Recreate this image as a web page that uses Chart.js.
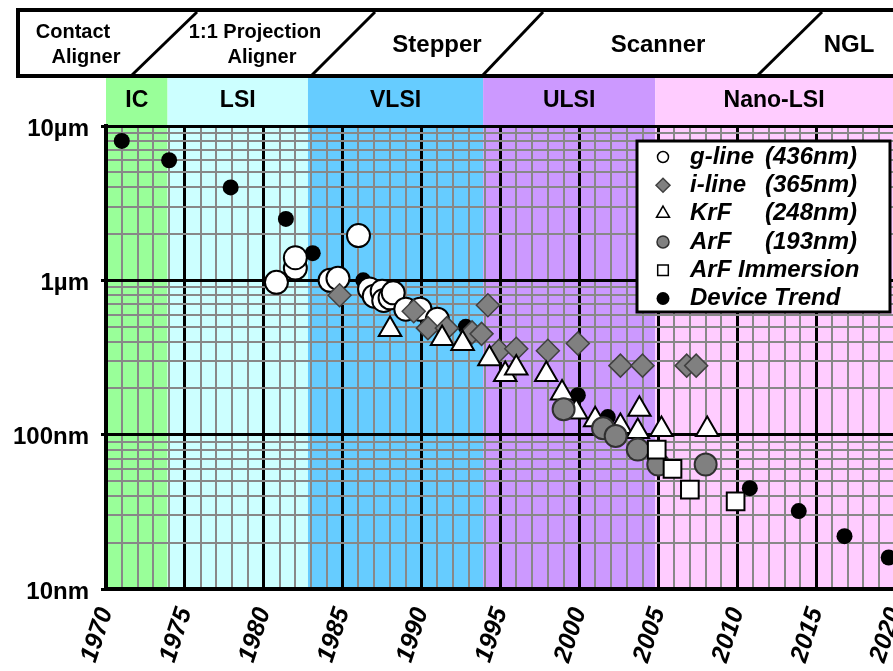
<!DOCTYPE html>
<html>
<head>
<meta charset="utf-8">
<script src="https://cdn.jsdelivr.net/npm/chart.js@4.4.0/dist/chart.umd.min.js"></script>
<style>
  html, body { margin: 0; padding: 0; background: #fff; }
  #wrap { width: 893px; height: 671px; overflow: hidden; }
  canvas { display: block; }
</style>
</head>
<body>
<div id="wrap"><canvas id="ch" width="910" height="671"></canvas></div>
<script>
// [year, feature size in nm]
const gLine = [[1980.8, 970], [1982, 1200], [1982, 1400], [1984.2, 1000], [1984.7, 1030], [1986, 1950],
  [1986.7, 880], [1987, 790], [1987.5, 850], [1987.6, 740], [1988, 770], [1988.2, 830],
  [1989, 650], [1989.9, 650], [1991, 560]];
const iLine = [[1984.8, 800], [1989.5, 630], [1990.4, 490], [1991.6, 490], [1993.2, 460], [1993.8, 450],
  [1994.2, 690], [1994.9, 350], [1996, 360], [1998, 350], [1999.9, 390], [2002.6, 280],
  [2004, 280], [2006.8, 280], [2007.4, 280]];
const krf = [[1988, 480], [1991.3, 420], [1992.6, 390], [1994.3, 310], [1995.3, 245], [1996, 270],
  [1997.9, 245], [1998.9, 186], [1999.8, 140], [2001, 125], [2002.6, 113], [2003.8, 146],
  [2003.7, 105], [2005.2, 108], [2008.1, 108]];
const arf = [[1999, 146], [2001.5, 110], [2002.3, 98], [2003.7, 80], [2005, 64], [2008, 64]];
const arfImm = [[2004.9, 80], [2005.9, 60], [2007, 44], [2009.9, 37]];
const device = [[1971, 8000], [1974, 6000], [1977.9, 4000], [1981.4, 2500], [1983.1, 1500], [1986.3, 1000],
  [1992.8, 500], [1999.9, 180], [2001.8, 130], [2010.8, 45], [2013.9, 32], [2016.8, 22], [2019.6, 16]];

const seriesNames = ['g-line', 'i-line', 'KrF', 'ArF', 'ArF Immersion', 'Device Trend'];
const seriesWaves = ['(436nm)', '(365nm)', '(248nm)', '(193nm)', '', ''];

const eraNames = ['IC', 'LSI', 'VLSI', 'ULSI', 'Nano-LSI'];
const eraStart = [1970, 1973.9, 1982.8, 1993.9, 2004.8];
const eraEnd = [1973.9, 1982.8, 1993.9, 2004.8, 2021];
const eraColors = ['#99ff99', '#ccffff', '#66ccff', '#cc99ff', '#ffccff'];

const sizeTicks = [10, 100, 1000, 10000];
const sizeLabels = ['10nm', '100nm', '1µm', '10µm'];
const yearLabels = [1970, 1975, 1980, 1985, 1990, 1995, 2000, 2005, 2010, 2015, 2020];

let yearGrid = [];
for (let y = 1970; y <= 2020; y++) yearGrid.push(y);
let sizeGrid = [];
[10, 100, 1000].forEach(d => { for (let m = 1; m <= 9; m++) sizeGrid.push(d * m); });
sizeGrid.push(10000);

const FONT = "'Liberation Sans', Arial, sans-serif";
Chart.defaults.font.family = FONT;
Chart.defaults.color = '#000';

let pts = arr => arr.map(p => ({ x: p[0], y: p[1] }));
let isDecade = v => Math.abs(Math.log10(v) - Math.round(Math.log10(v))) < 1e-9;

let styles = [
  { pointStyle: 'circle', radius: 11.5, bg: '#ffffff', border: '#000', bw: 2, lr: 5.5 },
  { pointStyle: 'rectRot', radius: 11.5, bg: '#808080', border: '#404040', bw: 1.5, lr: 7 },
  { pointStyle: 'triangle', radius: 13, bg: '#ffffff', border: '#000', bw: 2, lr: 7.5 },
  { pointStyle: 'circle', radius: 11, bg: '#808080', border: '#303030', bw: 2, lr: 6 },
  { pointStyle: 'rect', radius: 12.5, bg: '#ffffff', border: '#000', bw: 2, lr: 7.5 },
  { pointStyle: 'circle', radius: 8, bg: '#000000', border: '#000', bw: 0, lr: 6.5 }
];
let series = [gLine, iLine, krf, arf, arfImm, device];
let orders = [5, 4, 3, 2, 1, 6];

let datasets = series.map((s, i) => ({
  label: seriesNames[i],
  data: pts(s),
  order: orders[i],
  pointStyle: styles[i].pointStyle,
  pointRadius: styles[i].radius,
  pointBackgroundColor: styles[i].bg,
  pointBorderColor: styles[i].border,
  pointBorderWidth: styles[i].bw
}));

let decor = {
  id: 'decor',
  beforeDraw(chart) {
    let { ctx, chartArea: a, scales: { x } } = chart;
    ctx.save();
    eraStart.forEach((s, i) => {
      let x0 = x.getPixelForValue(s), x1 = x.getPixelForValue(eraEnd[i]);
      ctx.fillStyle = eraColors[i];
      ctx.fillRect(x0, 78, x1 - x0, a.bottom - 78);
    });
    ctx.restore();
  },
  afterDraw(chart) {
    let { ctx, scales: { x } } = chart;
    ctx.save();
    ctx.fillStyle = '#000';
    ctx.textAlign = 'center';
    ctx.textBaseline = 'middle';

    // era names
    ctx.font = 'bold 23px ' + FONT;
    eraNames.forEach((n, i) => {
      let x0 = x.getPixelForValue(eraStart[i]);
      let x1 = Math.min(x.getPixelForValue(eraEnd[i]), 893);
      ctx.fillText(n, (x0 + x1) / 2, 101);
    });

    // tool banner
    ctx.strokeStyle = '#000';
    ctx.lineWidth = 4;
    ctx.strokeRect(18, 10, 950, 66);
    ctx.lineWidth = 3;
    [[197, 12, 132, 75], [375, 12, 312, 75], [543, 12, 483, 75], [822, 12, 758, 75]].forEach(l => {
      ctx.beginPath(); ctx.moveTo(l[0], l[1]); ctx.lineTo(l[2], l[3]); ctx.stroke();
    });
    ctx.font = 'bold 20px ' + FONT;
    ctx.fillText('Contact', 73, 32);
    ctx.fillText('Aligner', 86, 57);
    ctx.fillText('1:1 Projection', 255, 32);
    ctx.fillText('Aligner', 262, 57);
    ctx.font = 'bold 24px ' + FONT;
    ctx.fillText('Stepper', 437, 45);
    ctx.fillText('Scanner', 658, 45);
    ctx.fillText('NGL', 849, 45);

    // legend
    ctx.fillStyle = '#fff';
    ctx.fillRect(637, 141, 253, 171);
    ctx.lineWidth = 3;
    ctx.strokeRect(637, 141, 253, 171);
    ctx.textAlign = 'left';
    ctx.font = 'italic bold 24px ' + FONT;
    seriesNames.forEach((n, i) => {
      let y = 157 + i * 28.3;
      let st = styles[i];
      ctx.fillStyle = st.bg;
      ctx.strokeStyle = st.border;
      ctx.lineWidth = 1.5;
      Chart.helpers.drawPoint(ctx, { pointStyle: st.pointStyle, radius: st.lr, rotation: 0, borderWidth: st.bw ? 1.5 : 0 }, 663, y);
      ctx.fillStyle = '#000';
      ctx.fillText(n, 690, y);
      if (seriesWaves[i]) ctx.fillText(seriesWaves[i], 765, y);
    });
    ctx.restore();
  }
};

new Chart('ch', {
  type: 'scatter',
  data: { datasets: datasets },
  options: {
    responsive: false,
    animation: false,
    events: [],
    layout: { padding: { top: 126, right: 15, left: 0, bottom: 0 } },
    plugins: { legend: { display: false }, tooltip: { enabled: false } },
    scales: {
      x: {
        type: 'linear',
        min: 1970,
        max: 2020,
        afterBuildTicks: s => { s.ticks = yearGrid.map(v => ({ value: v })); },
        afterFit: s => { s.height = 82; s.paddingLeft = 0; s.paddingRight = 0; },
        grid: {
          drawTicks: false,
          color: c => (c.tick && c.tick.value % 5 === 0) ? '#000' : '#888',
          lineWidth: c => (c.tick && c.tick.value % 5 === 0) ? 3 : 2
        },
        border: { color: '#000', width: 4 },
        ticks: {
          autoSkip: false,
          minRotation: 72,
          maxRotation: 72,
          padding: 15,
          color: '#000',
          font: { size: 25, weight: 'bold', style: 'italic' },
          callback: v => yearLabels.includes(v) ? String(v) : ''
        }
      },
      y: {
        type: 'logarithmic',
        min: 10,
        max: 10000,
        afterBuildTicks: s => { s.ticks = sizeGrid.map(v => ({ value: v })); },
        afterFit: s => { s.width = 106; s.paddingTop = 0; s.paddingBottom = 0; },
        grid: {
          tickLength: 5,
          tickWidth: 3,
          tickColor: c => (c.tick && isDecade(c.tick.value)) ? '#000' : 'rgba(0,0,0,0)',
          color: c => (c.tick && isDecade(c.tick.value)) ? '#000' : '#888',
          lineWidth: c => (c.tick && isDecade(c.tick.value)) ? 3 : 2
        },
        border: { color: '#000', width: 4 },
        ticks: {
          autoSkip: false,
          padding: 12,
          labelOffset: 3,
          color: '#000',
          font: { size: 24, weight: 'bold' },
          callback: v => {
            let k = sizeTicks.indexOf(v);
            return k >= 0 ? sizeLabels[k] : '';
          }
        }
      }
    }
  },
  plugins: [decor]
});
</script>
</body>
</html>
